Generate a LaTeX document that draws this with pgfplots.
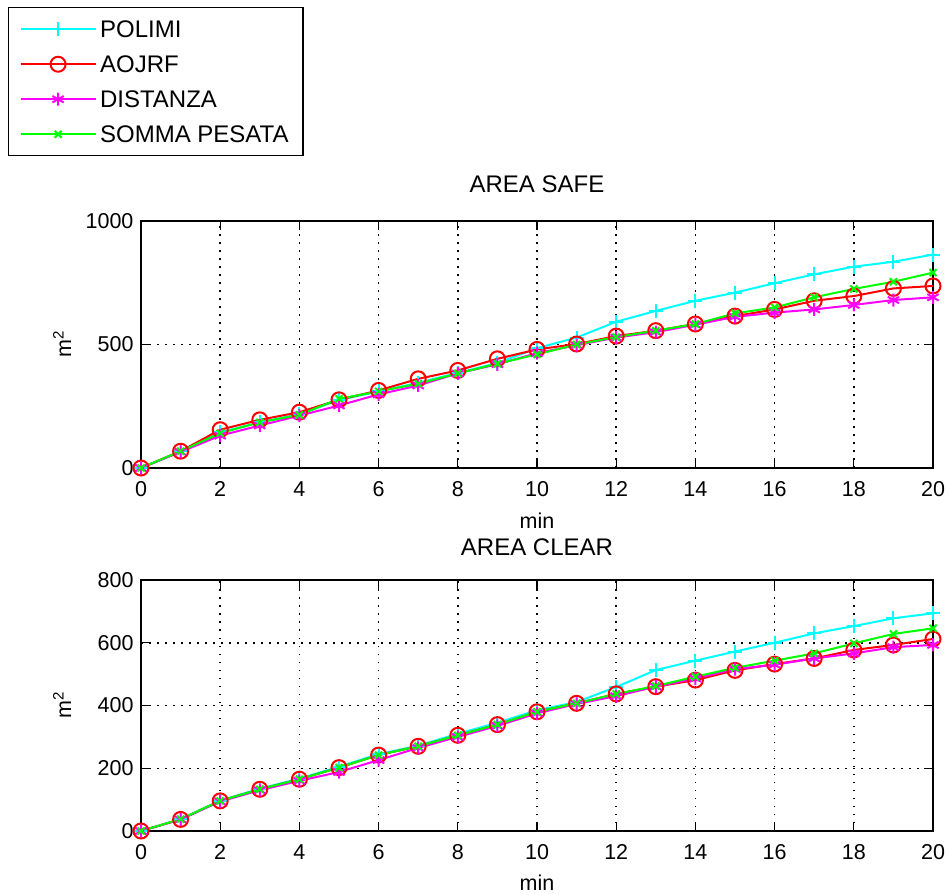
\documentclass[border=0pt]{standalone}
\usepackage{fontspec}
\setmainfont{Liberation Sans}
\usepackage{pgfplots}
\usepackage{pgfplotstable}
\pgfplotsset{compat=1.18}

\definecolor{mcyan}{rgb}{0,1,1}
\definecolor{mred}{rgb}{1,0,0}
\definecolor{mmagenta}{rgb}{1,0,1}
\definecolor{mgreen}{rgb}{0,1,0}

% AREA SAFE
\pgfplotstableread{
x polimi aojrf distanza somma
0  0   0   0   0
1  68  68  65  68
2  145 155 131 141
3  185 195 172 185
4  218 226 212 215
5  275 276 253 280
6  310 314 298 310
7  345 361 334 341
8  385 395 383 383
9  425 442 420 422
10 485 480 465 460
11 528 502 497 500
12 592 534 528 530
13 636 556 550 556
14 677 583 580 583
15 710 615 612 626
16 748 642 629 650
17 784 677 642 691
18 815 696 660 725
19 835 727 680 754
20 864 737 691 791
}\safe

% AREA CLEAR
\pgfplotstableread{
x polimi aojrf distanza somma
0  0   0   0   0
1  38  37  37  38
2  97  96  94  96
3  135 133 130 133
4  167 165 160 165
5  205 202 188 202
6  245 242 226 242
7  272 270 265 270
8  310 305 300 305
9  345 339 335 339
10 385 380 375 380
11 411 407 405 407
12 459 437 430 437
13 513 460 460 462
14 543 481 486 492
15 572 512 516 520
16 600 532 530 543
17 630 550 550 566
18 653 577 566 598
19 678 593 586 628
20 694 612 593 646
}\clear

\pgfplotsset{
  panel/.style={
    scale only axis,
    width=792pt,
    xmin=0, xmax=20,
    xtick={0,2,...,20},
    font=\fontsize{21.5}{25}\selectfont,
    /pgf/number format/assume math mode=true,
    /pgf/number format/1000 sep={},
    grid=major,
    grid style={black, line width=1.5pt, dash pattern=on 1.5pt off 6.5pt},
    axis line style={black, line width=1.3pt},
    tick style={black, line width=1.3pt},
    major tick length=9pt,
    tick align=inside,
    xticklabel style={yshift=-10pt},
    yticklabel style={xshift=-4pt},
    xlabel={min},
    ylabel={m\textsuperscript{2}},
    ylabel style={at={(axis description cs:-0.0997,0.5)}, anchor=center},
    title style={anchor=center, font=\fontsize{24}{28}\selectfont},
  },
  polimi/.style={mcyan, line width=2pt, mark=+, mark size=7pt, mark options={solid}},
  aojrf/.style={mred, line width=2pt, mark=o, mark size=7.5pt, mark options={solid}},
  distanza/.style={mmagenta, line width=2pt, mark=asterisk, mark size=6.5pt, mark options={solid}},
  somma/.style={mgreen, line width=2pt, mark=x, mark size=5pt, mark options={solid}},
}

\begin{document}
\begin{tikzpicture}
\useasboundingbox (0pt,0pt) rectangle (949pt,894pt);

\begin{axis}[panel,
  at={(141pt,426pt)}, anchor=south west,
  height=247pt,
  ymin=0, ymax=1000, ytick={0,500,1000},
  title={AREA SAFE},
  title style={at={(axis description cs:0.5,1.125)}},
  xlabel style={at={(axis description cs:0.5,-0.2146)}, anchor=center},
  legend image code/.code={\draw[mark repeat=2,mark phase=2,#1] plot coordinates {(0pt,0pt) (37.5pt,0pt) (75pt,0pt)};},
  legend style={at={(axis description cs:-0.168,1.866)}, anchor=north west,
    draw=black, line width=1.3pt, inner xsep=11pt, inner ysep=13pt, row sep=18pt,
    nodes={inner xsep=3.5pt, inner ysep=0pt, text height=17pt, text depth=0pt},
    cells={anchor=west}, font=\fontsize{24}{28}\selectfont},
]
\addplot[polimi] table[x=x, y=polimi] {\safe};
\addlegendentry{POLIMI}
\addplot[aojrf] table[x=x, y=aojrf] {\safe};
\addlegendentry{AOJRF}
\addplot[distanza] table[x=x, y=distanza] {\safe};
\addlegendentry{DISTANZA}
\addplot[somma] table[x=x, y=somma] {\safe};
\addlegendentry{SOMMA PESATA}
\end{axis}

\begin{axis}[panel,
  at={(141pt,63pt)}, anchor=south west,
  height=251pt,
  ymin=0, ymax=800, ytick={0,200,...,800},
  title={AREA CLEAR},
  title style={at={(axis description cs:0.5,1.105)}},
  xlabel style={at={(axis description cs:0.5,-0.205)}, anchor=center},
]
\addplot[polimi] table[x=x, y=polimi] {\clear};
\addplot[aojrf] table[x=x, y=aojrf] {\clear};
\addplot[distanza] table[x=x, y=distanza] {\clear};
\addplot[somma] table[x=x, y=somma] {\clear};
\end{axis}
\end{tikzpicture}
\end{document}
